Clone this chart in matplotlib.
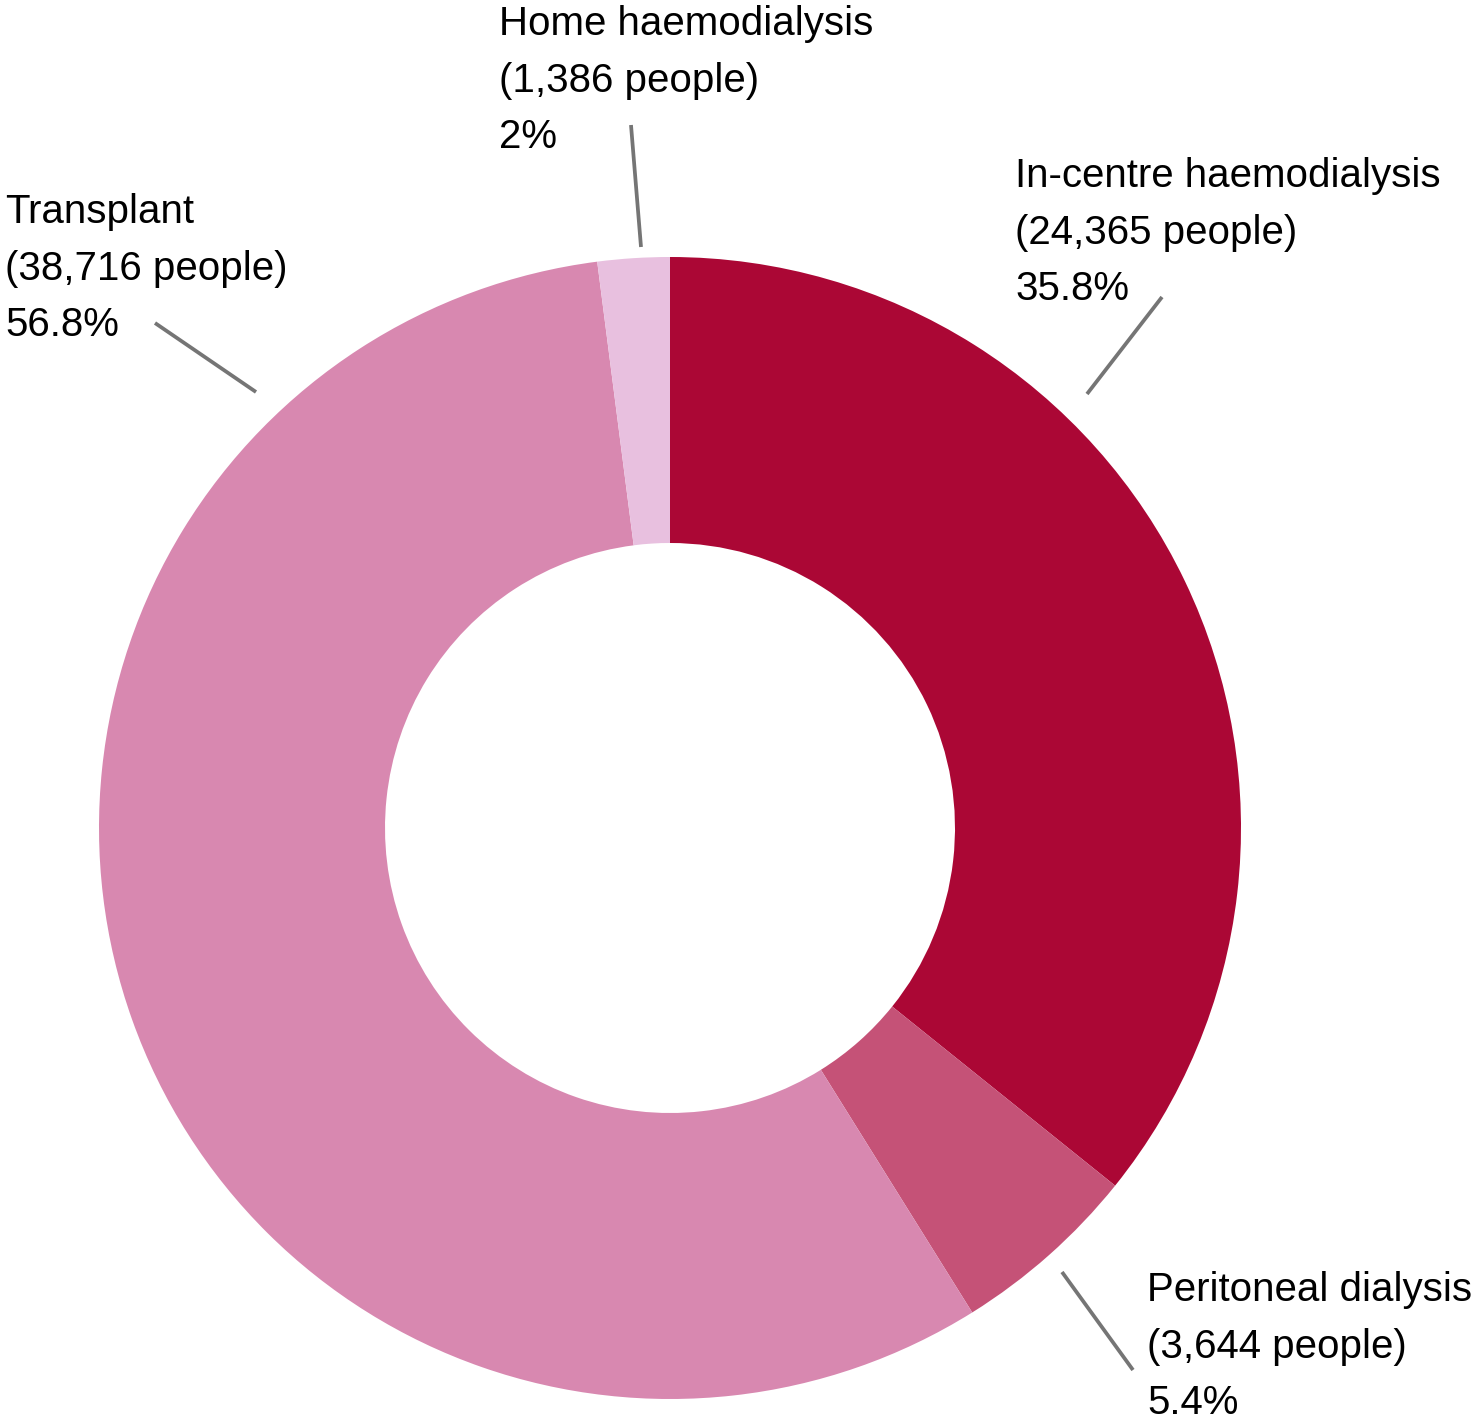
import matplotlib.pyplot as plt

plt.rcParams['font.family'] = ['Liberation Sans', 'DejaVu Sans']

# data
categories = ['In-centre haemodialysis', 'Peritoneal dialysis', 'Transplant', 'Home haemodialysis']
people = [24365, 3644, 38716, 1386]
percent_labels = ['35.8%', '5.4%', '56.8%', '2%']
colors = ['#ab0735', '#c55277', '#d888b0', '#e8c0df']

W, H = 1473, 1414
fig = plt.figure(figsize=(W / 100, H / 100), dpi=100)
ax = fig.add_axes([0, 0, 1, 1])


def py(y):
    # pixel row (from top) to data y
    return H - y


cx, cy = 670, py(828)
r_out, r_in = 571, 285
ax.pie(people, colors=colors, startangle=90, counterclock=False,
       center=(cx, cy), radius=r_out, frame=True,
       wedgeprops=dict(width=r_out - r_in, linewidth=0))
ax.set_xlim(0, W)
ax.set_ylim(0, H)
ax.set_aspect('equal')
ax.axis('off')

# label anchor (left x, first baseline) and leader line (two points)
label_pos = [(1015, 187), (1147, 1301), (5, 223), (499, 35)]
leaders = [((1162, 297), (1087, 394)),
           ((1062, 1272), (1133, 1370)),
           ((155, 323), (256, 392)),
           ((631, 125), (641, 247))]
step = 56.5

for name, n, pct, (lx, ly), (p1, p2) in zip(categories, people, percent_labels,
                                             label_pos, leaders):
    lines = [name, '({:,} people)'.format(n), pct]
    for i, t in enumerate(lines):
        ax.text(lx, py(ly + i * step), t, fontsize=29, color='black',
                ha='left', va='baseline')
    ax.plot([p1[0], p2[0]], [py(p1[1]), py(p2[1])], color='#757575', lw=2.7,
            solid_capstyle='butt')

fig.savefig('out.png', dpi=100)
